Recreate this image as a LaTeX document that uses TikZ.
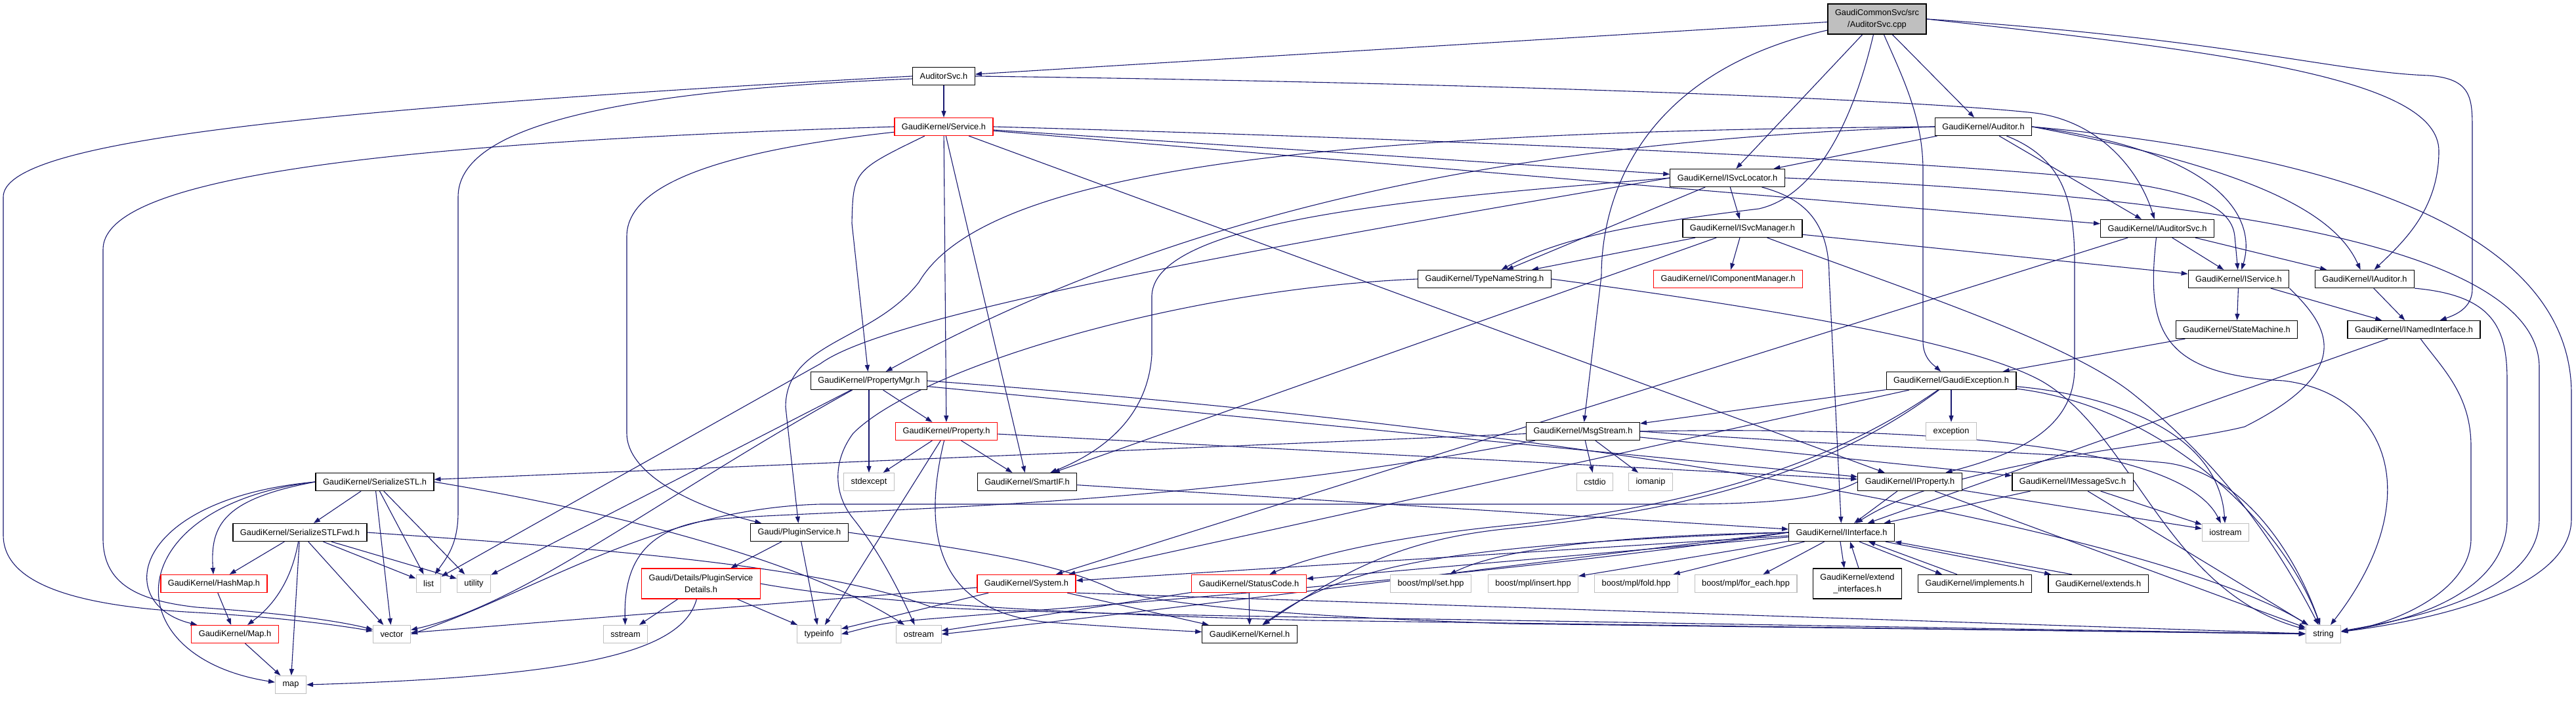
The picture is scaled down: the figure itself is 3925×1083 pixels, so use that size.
\documentclass[tikz,border=0pt]{standalone}
\usepackage{fontspec}
\setmainfont{Liberation Sans}
\usetikzlibrary{arrows.meta}
\definecolor{depblue}{HTML}{191970}
\definecolor{sysgray}{HTML}{BFBFBF}
\pgfdeclarelayer{links}
\pgfsetlayers{links,main}

\begin{document}
\begin{tikzpicture}[x=1pt,y=-1pt,font=\fontsize{12.8}{17.5}\selectfont,
  hdr/.style={draw=black,fill=white,line width=1.2pt,inner xsep=11pt,inner ysep=0pt,minimum height=27pt},
  hdrred/.style={hdr,draw=red},
  sysinc/.style={hdr,draw=sysgray},
  twoline/.style={align=center,minimum height=46pt},
  srcfile/.style={hdr,twoline,fill=sysgray},
  dep/.style={draw=depblue,line width=1.1pt,-{Triangle[length=10pt,width=7pt]}}]
  \useasboundingbox (0,0) rectangle (3925,1083);
  % headers, one row per rank
  \node[srcfile] (root) at (2860,29) {GaudiCommonSvc/src\\/AuditorSvc.cpp};
  \node[hdr] (asvc) at (1438,116) {AuditorSvc.h};
  \node[hdrred] (svc) at (1438,193) {GaudiKernel/Service.h};
  \node[hdr] (aud) at (3022,193) {GaudiKernel/Auditor.h};
  \node[hdr] (isl) at (2632,271) {GaudiKernel/ISvcLocator.h};
  \node[hdr] (ism) at (2655,348) {GaudiKernel/ISvcManager.h};
  \node[hdr] (iasvc) at (3287,348) {GaudiKernel/IAuditorSvc.h};
  \node[hdr] (tns) at (2262,425) {GaudiKernel/TypeNameString.h};
  \node[hdrred] (icm) at (2633,425) {GaudiKernel/IComponentManager.h};
  \node[hdr] (isvc) at (3411,425) {GaudiKernel/IService.h};
  \node[hdr] (iaud) at (3603,425) {GaudiKernel/IAuditor.h};
  \node[hdr] (sm) at (3408,502) {GaudiKernel/StateMachine.h};
  \node[hdr] (ini) at (3678,502) {GaudiKernel/INamedInterface.h};
  \node[hdr] (pmgr) at (1324,580) {GaudiKernel/PropertyMgr.h};
  \node[hdr] (gex) at (2973,580) {GaudiKernel/GaudiException.h};
  \node[hdrred] (prop) at (1442,657) {GaudiKernel/Property.h};
  \node[hdr] (msg) at (2412,657) {GaudiKernel/MsgStream.h};
  \node[sysinc] (exc) at (2973,657) {exception};
  \node[sysinc] (stdx) at (1324,734) {stdexcept};
  \node[hdr] (sif) at (1565,734) {GaudiKernel/SmartIF.h};
  \node[sysinc] (cstdio) at (2430,734) {cstdio};
  \node[sysinc] (iomanip) at (2515,734) {iomanip};
  \node[hdr] (sstl) at (571,734) {GaudiKernel/SerializeSTL.h};
  \node[hdr] (iprop) at (2910,734) {GaudiKernel/IProperty.h};
  \node[hdr] (imsg) at (3158,734) {GaudiKernel/IMessageSvc.h};
  \node[hdr] (sfwd) at (457,811) {GaudiKernel/SerializeSTLFwd.h};
  \node[hdr] (plug) at (1218,811) {Gaudi/PluginService.h};
  \node[hdr] (iif) at (2806,811) {GaudiKernel/IInterface.h};
  \node[sysinc] (iostream) at (3391,811) {iostream};
  \node[hdrred] (hmap) at (326,889) {GaudiKernel/HashMap.h};
  \node[sysinc] (list) at (653,889) {list};
  \node[sysinc] (utility) at (722,889) {utility};
  \node[hdrred,twoline] (psd) at (1068,889) {Gaudi/Details/PluginService\\Details.h};
  \node[hdrred] (sys) at (1564,889) {GaudiKernel/System.h};
  \node[hdrred] (sc) at (1903,889) {GaudiKernel/StatusCode.h};
  \node[sysinc] (mset) at (2180,889) {boost/mpl/set.hpp};
  \node[sysinc] (mins) at (2336,889) {boost/mpl/insert.hpp};
  \node[sysinc] (mfold) at (2493,889) {boost/mpl/fold.hpp};
  \node[sysinc] (mfe) at (2660,889) {boost/mpl/for\_each.hpp};
  \node[hdr,twoline] (ext) at (2830,889) {GaudiKernel/extend\\\_interfaces.h};
  \node[hdr] (impl) at (3009,889) {GaudiKernel/implements.h};
  \node[hdr] (exts) at (3197,889) {GaudiKernel/extends.h};
  \node[hdrred] (mapH) at (358,966) {GaudiKernel/Map.h};
  \node[sysinc] (vector) at (597,966) {vector};
  \node[sysinc] (sstream) at (953,966) {sstream};
  \node[sysinc] (typeinfo) at (1248,966) {typeinfo};
  \node[sysinc] (ostream) at (1400,966) {ostream};
  \node[hdr] (kern) at (1904,966) {GaudiKernel/Kernel.h};
  \node[sysinc] (string) at (3540,966) {string};
  \node[sysinc] (map) at (443,1043) {map};

  \begin{pgfonlayer}{links}
  % AuditorSvc.cpp
  \draw[dep] (root) -- (asvc);
  \draw[dep] (root) .. controls (2500,110) and (2440,300) .. (2440,420) -- (msg);
  \draw[dep] (root) -- (isl);
  \draw[dep] (root) .. controls (2820,200) and (2760,300) .. (2680,318) .. controls (2500,340) and (2380,360) .. (tns);
  \draw[dep] (root) .. controls (2900,120) and (2930,180) .. (2930,260) -- (2930,520) .. controls (2930,545) and (2945,555) .. (gex);
  \draw[dep] (root) -- (aud);
  \draw[dep] (root.east) .. controls (3400,80) and (3716,120) .. (3716,230) .. controls (3716,320) and (3660,370) .. (iaud);
  \draw[dep] (root.east) .. controls (3400,60) and (3560,110) .. (3700,115) .. controls (3767,120) and (3767,150) .. (3767,200) -- (3767,440) .. controls (3767,470) and (3740,480) .. (ini);
  % AuditorSvc.h
  \draw[dep] (asvc) -- (svc);
  \draw[dep] (asvc.east) .. controls (2200,125) and (2900,150) .. (3100,172) .. controls (3200,185) and (3260,260) .. (iasvc);
  \draw[dep] (asvc.west) .. controls (400,170) and (5,220) .. (5,300) -- (5,815) .. controls (5,900) and (150,925) .. (300,933) .. controls (420,940) and (500,950) .. (vector);
  \draw[dep] ([yshift=-4pt]asvc.west) .. controls (900,140) and (698,200) .. (698,300) -- (698,780) .. controls (698,830) and (680,850) .. (list);
  % Service.h
  \draw[dep] (svc.west) .. controls (500,220) and (157,280) .. (157,380) -- (157,820) .. controls (157,890) and (210,915) .. (300,925) .. controls (400,932) and (500,942) .. (vector);
  \draw[dep] (svc) .. controls (1100,230) and (955,280) .. (955,360) -- (955,660) .. controls (955,720) and (1050,770) .. (plug);
  \draw[dep] (svc) .. controls (1300,260) .. (1298,340) -- (pmgr);
  \draw[dep] (svc) -- (prop);
  \draw[dep] (svc) -- (sif);
  \draw[dep] (svc) -- (isl);
  \draw[dep] (svc) -- (iasvc);
  \draw[dep] (svc.east) .. controls (2300,215) and (2900,245) .. (3150,268) .. controls (3330,285) and (3400,310) .. (3405,360) -- (isvc);
  \draw[dep] (svc) -- (iprop);
  % Auditor.h
  \draw[dep] (aud) -- (isl);
  \draw[dep] (aud.west) .. controls (2300,215) and (1800,320) .. (pmgr);
  \draw[dep] (aud.west) .. controls (2000,200) and (1500,260) .. (1400,430) .. controls (1330,520) and (1197,520) .. (1197,620) -- (plug);
  \draw[dep] (aud) -- (iasvc);
  \draw[dep] (aud.east) .. controls (3380,230) and (3440,330) .. (isvc);
  \draw[dep] (aud.east) .. controls (3450,260) and (3560,330) .. (iaud);
  \draw[dep] (aud.east) .. controls (3500,230) and (3918,330) .. (3918,600) -- (3918,790) .. controls (3918,900) and (3700,945) .. (string);
  \draw[dep] (aud) .. controls (3140,240) and (3161,300) .. (3161,400) -- (3161,560) .. controls (3161,650) and (3080,690) .. (iprop);
  % ISvcLocator.h
  \draw[dep] (isl) -- (ism);
  \draw[dep] (isl) -- (tns);
  \draw[dep] (isl) .. controls (2740,300) and (2787,330) .. (2787,420) -- (iif);
  \draw[dep] (isl.east) .. controls (3400,300) and (3869,380) .. (3869,560) -- (3869,790) .. controls (3869,900) and (3690,940) .. (string);
  \draw[dep] (isl.west) .. controls (2200,300) and (1760,330) .. (1755,450) -- (1755,540) .. controls (1750,620) and (1700,680) .. (sif);
  \draw[dep] (isl.west) .. controls (1900,380) and (1350,480) .. (1250,554) -- (list);
  % ISvcManager.h
  \draw[dep] (ism) -- (icm);
  \draw[dep] (ism) -- (tns);
  \draw[dep] (ism) -- (isvc);
  \draw[dep] (ism) -- (sif);
  \draw[dep] (ism) .. controls (2900,440) and (3150,520) .. (3250,600) .. controls (3400,720) and (3480,850) .. (string);
  % TypeNameString.h
  \draw[dep] (tns.east) .. controls (2700,470) and (3000,520) .. (3110,580) .. controls (3250,660) and (3300,900) .. (string);
  \draw[dep] (tns.west) .. controls (1800,440) and (1400,560) .. (1300,660) .. controls (1270,700) and (1268,750) .. (1300,790) .. controls (1340,840) and (1370,900) .. (ostream);
  % IAuditorSvc.h
  \draw[dep] (iasvc) -- (isvc);
  \draw[dep] (iasvc) -- (iaud);
  \draw[dep] (iasvc) -- (sys);
  \draw[dep] (iasvc) .. controls (3270,500) and (3290,570) .. (3480,580) .. controls (3640,600) and (3700,760) .. (string);
  % IService.h, IAuditor.h, INamedInterface.h, StateMachine.h
  \draw[dep] (isvc) -- (sm);
  \draw[dep] (isvc) -- (ini);
  \draw[dep] (isvc.south east) .. controls (3540,490) and (3600,560) .. (3420,650) .. controls (3300,680) and (2980,700) .. (iif);
  \draw[dep] (iaud) -- (ini);
  \draw[dep] (iaud.south east) .. controls (3800,450) and (3820,500) .. (3820,580) -- (3820,790) .. controls (3820,900) and (3680,945) .. (string);
  \draw[dep] (ini) -- (iif);
  \draw[dep] (ini) .. controls (3720,560) and (3765,600) .. (3765,680) -- (3765,820) .. controls (3765,900) and (3650,950) .. (string);
  \draw[dep] (sm) -- (gex);
  % GaudiException.h
  \draw[dep] (gex) -- (msg);
  \draw[dep] (gex) -- (exc);
  \draw[dep] (gex) .. controls (3200,600) and (3380,650) .. (iostream);
  \draw[dep] (gex) .. controls (3300,620) and (3480,800) .. (string);
  \draw[dep] (gex) -- (sys);
  \draw[dep] (gex) .. controls (2800,700) and (2600,770) .. (2300,800) .. controls (2100,820) and (1990,850) .. (sc);
  \draw[dep] (gex) .. controls (2800,710) and (2600,775) .. (2300,805) .. controls (2150,820) and (2060,860) .. (kern);
  % MsgStream.h
  \draw[dep] (msg) -- (cstdio);
  \draw[dep] (msg) -- (iomanip);
  \draw[dep] (msg) -- (imsg);
  \draw[dep] (msg) -- (sstl);
  \draw[dep] (msg) .. controls (1800,775) and (1300,775) .. (1100,790) .. controls (980,800) and (950,860) .. (sstream);
  \draw[dep] (msg.east) .. controls (2900,650) and (3320,670) .. (iostream);
  \draw[dep] (msg.east) .. controls (2900,685) and (3150,690) .. (3300,705) .. controls (3420,720) and (3500,850) .. (string);
  % IMessageSvc.h, IProperty.h, SmartIF.h
  \draw[dep] (imsg) -- (iif);
  \draw[dep] (imsg) -- (iostream);
  \draw[dep] (imsg) -- (string);
  \draw[dep] (iprop) -- (iif);
  \draw[dep] (iprop) -- (iostream);
  \draw[dep] (iprop) -- (string);
  \draw[dep] (iprop.west) .. controls (2780,760) and (2700,768) .. (2550,768) -- (1250,768) .. controls (1000,775) and (820,900) .. (vector.east);
  \draw[dep] (sif) -- (iif);
  % Property.h, PropertyMgr.h
  \draw[dep] (prop) -- (sif);
  \draw[dep] (prop) -- (stdx);
  \draw[dep] (prop) -- (typeinfo);
  \draw[dep] (prop) .. controls (1400,830) and (1440,935) .. (1600,948) .. controls (1700,955) and (1780,960) .. (kern);
  \draw[dep] (prop) -- (iprop);
  \draw[dep] (pmgr) -- (prop);
  \draw[dep] (pmgr) -- (stdx);
  \draw[dep] (pmgr) -- (utility);
  \draw[dep] (pmgr) .. controls (1000,760) and (800,920) .. (vector);
  \draw[dep] (pmgr) -- (iprop);
  \draw[dep] (pmgr.east) .. controls (2500,660) and (3300,820) .. (string);
  % SerializeSTL.h, SerializeSTLFwd.h
  \draw[dep] (sstl) -- (sfwd);
  \draw[dep] (sstl) -- (list);
  \draw[dep] (sstl) -- (utility);
  \draw[dep] (sstl) -- (vector);
  \draw[dep] (sstl.west) .. controls (340,760) and (320,800) .. (hmap);
  \draw[dep] (sstl.west) .. controls (200,760) and (170,920) .. (mapH);
  \draw[dep] (sstl.west) .. controls (180,770) and (170,1000) .. (map);
  \draw[dep] (sstl.east) .. controls (1000,790) and (1250,870) .. (ostream);
  \draw[dep] (sfwd) -- (hmap);
  \draw[dep] (sfwd) .. controls (445,880) and (420,920) .. (mapH);
  \draw[dep] (sfwd) -- (map);
  \draw[dep] (sfwd) -- (vector);
  \draw[dep] (sfwd) -- (list);
  \draw[dep] (sfwd) -- (utility);
  \draw[dep] (sfwd.east) .. controls (900,835) and (1250,860) .. (1420,925) .. controls (1600,935) and (2000,940) .. (2300,945) -- (string);
  \draw[dep] (hmap) -- (mapH);
  \draw[dep] (mapH) -- (map);
  % plugin service
  \draw[dep] (plug) -- (psd);
  \draw[dep] (plug) -- (typeinfo);
  \draw[dep] (plug.east) .. controls (1500,840) and (1620,860) .. (1700,900) .. controls (1800,925) and (2000,940) .. (2300,950) -- (string);
  \draw[dep] (psd) -- (sstream);
  \draw[dep] (psd) -- (typeinfo);
  \draw[dep] (psd) .. controls (1040,990) and (900,1030) .. (map.east);
  \draw[dep] (psd.east) .. controls (1300,915) and (1600,935) .. (2000,945) -- (string);
  % System.h, StatusCode.h
  \draw[dep] (sys) -- (kern);
  \draw[dep] (sys) -- (typeinfo);
  \draw[dep] (sys) -- (vector);
  \draw[dep] (sys.south east) -- (string);
  \draw[dep] (sc) -- (kern);
  \draw[dep] (sc) -- (ostream);
  % IInterface.h
  \draw[dep] (iif) -- (sys);
  \draw[dep] (iif) -- (sc);
  \draw[dep] (iif.west) .. controls (2200,830) and (2050,860) .. (kern);
  \draw[dep] (iif.west) .. controls (2300,860) and (1900,915) .. (ostream.east);
  \draw[dep] (iif.west) .. controls (2300,875) and (1700,920) .. (1450,940) .. controls (1350,948) .. (typeinfo.east);
  \draw[dep] (iif.west) .. controls (2500,815) and (2300,830) .. (mset);
  \draw[dep] (iif) -- (mins);
  \draw[dep] (iif) -- (mfold);
  \draw[dep] (iif) -- (mfe);
  \draw[dep] ([xshift=-2pt]iif.south) -- ([xshift=-20pt]ext.north);
  \draw[dep] ([xshift=2pt]ext.north) -- ([xshift=13pt]iif.south);
  \draw[dep] ([xshift=27pt]iif.south) -- ([xshift=-50pt]impl.north);
  \draw[dep] ([xshift=-27pt]impl.north) -- ([xshift=41pt]iif.south);
  \draw[dep] ([xshift=-14pt]iif.south east) -- ([xshift=-72pt]exts.north);
  \draw[dep] ([xshift=-40pt]exts.north) -- (iif.south east);
  \end{pgfonlayer}
\end{tikzpicture}
\end{document}
